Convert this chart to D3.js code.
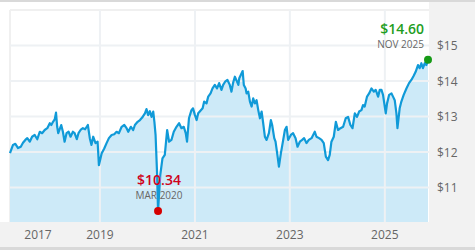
<!DOCTYPE html>
<html lang="en">
<head>
<meta charset="UTF-8">
<title>Price history</title>
<script src="https://d3js.org/d3.v7.min.js"></script>
<style>
    body { margin: 0; background: #fff; }
    svg text { font-family: "Open Sans", "DejaVu Sans", sans-serif; }
    .tick-label { font-size: 12px; fill: #666; }
</style>
</head>
<body>
<div id="chart"></div>
<script>
// dates and prices
const dates = [
    "2017-02-08","2017-03-03","2017-03-21","2017-04-11","2017-05-02","2017-05-19","2017-06-06","2017-06-21",
    "2017-07-10","2017-07-28","2017-08-17","2017-09-06","2017-09-25","2017-10-13","2017-11-02","2017-11-22",
    "2017-12-11","2017-12-23","2018-01-05","2018-01-18","2018-01-28","2018-02-06","2018-02-14","2018-03-09",
    "2018-03-22","2018-04-04","2018-04-19","2018-05-05","2018-05-20","2018-06-07","2018-06-20","2018-07-07",
    "2018-07-20","2018-08-05","2018-08-23","2018-09-09","2018-09-30","2018-10-15","2018-10-28","2018-11-10",
    "2018-11-28","2018-12-14","2018-12-24","2019-01-14","2019-02-03","2019-02-21","2019-03-11","2019-04-01",
    "2019-04-21","2019-05-09","2019-05-27","2019-06-17","2019-07-07","2019-07-25","2019-08-07","2019-08-27",
    "2019-09-14","2019-09-27","2019-10-18","2019-11-05","2019-11-22","2019-12-13","2019-12-25","2020-01-07",
    "2020-01-20","2020-02-02","2020-02-15","2020-02-24","2020-03-04","2020-03-16","2020-03-23","2020-04-09",
    "2020-04-26","2020-05-14","2020-06-01","2020-06-16","2020-07-04","2020-07-22","2020-08-12","2020-09-01",
    "2020-09-19","2020-10-07","2020-10-22","2020-11-01","2020-11-16","2020-12-05","2020-12-17","2021-01-01",
    "2021-01-14","2021-01-26","2021-02-07","2021-03-01","2021-03-13","2021-03-31","2021-04-13","2021-05-01",
    "2021-05-16","2021-06-03","2021-06-20","2021-07-06","2021-07-24","2021-08-06","2021-08-21","2021-09-08",
    "2021-09-26","2021-10-09","2021-10-21","2021-11-04","2021-11-21","2021-12-01","2021-12-08","2022-01-03",
    "2022-01-12","2022-01-26","2022-02-02","2022-02-15","2022-02-28","2022-03-13","2022-03-25","2022-04-07",
    "2022-04-20","2022-05-03","2022-05-16","2022-05-29","2022-06-10","2022-06-23","2022-07-06","2022-07-24",
    "2022-08-08","2022-08-18","2022-09-03","2022-09-13","2022-09-29","2022-10-09","2022-10-24","2022-11-11",
    "2022-11-24","2022-12-07","2022-12-19","2023-01-09","2023-01-26","2023-02-14","2023-03-01","2023-03-19",
    "2023-04-06","2023-04-21","2023-05-09","2023-05-27","2023-06-17","2023-07-12","2023-07-25","2023-08-14",
    "2023-09-02","2023-09-19","2023-10-05","2023-10-22","2023-11-04","2023-11-17","2023-12-05","2023-12-21",
    "2024-01-07","2024-01-26","2024-02-15","2024-03-06","2024-03-24","2024-04-11","2024-04-27","2024-05-15",
    "2024-06-01","2024-06-17","2024-07-05","2024-07-17","2024-07-30","2024-08-17","2024-09-02","2024-09-20",
    "2024-10-08","2024-10-23","2024-11-10","2024-11-23","2024-12-06","2024-12-18","2025-01-08","2025-01-18",
    "2025-02-03","2025-02-21","2025-03-05","2025-03-18","2025-03-31","2025-04-08","2025-04-25","2025-05-08",
    "2025-05-26","2025-06-16","2025-07-06","2025-07-24","2025-08-11","2025-08-26","2025-09-13","2025-09-26",
    "2025-10-09","2025-10-21","2025-11-04","2025-11-17","2025-11-29"
];
const prices = [
    11.97,12.20,12.23,12.11,12.15,12.26,12.34,12.39,
    12.29,12.43,12.48,12.36,12.57,12.53,12.62,12.67,
    12.81,12.76,12.85,12.92,13.11,12.71,12.53,12.76,
    12.57,12.29,12.53,12.57,12.43,12.57,12.53,12.36,
    12.53,12.62,12.67,12.64,12.76,12.39,12.20,12.43,
    12.25,12.29,11.63,11.96,12.10,12.25,12.39,12.48,
    12.50,12.57,12.53,12.71,12.76,12.67,12.57,12.71,
    12.62,12.76,12.85,12.90,12.97,13.09,13.21,13.04,
    13.15,12.99,13.14,12.85,12.48,11.35,10.34,11.35,
    11.82,11.92,12.62,12.29,12.34,12.57,12.71,12.81,
    12.67,12.71,12.53,12.29,12.95,13.18,13.23,13.04,
    12.90,13.09,13.14,13.23,13.42,13.37,13.56,13.65,
    13.79,13.89,13.79,13.94,13.75,13.89,13.98,14.03,
    13.89,13.70,13.94,14.12,13.98,13.89,14.08,14.28,
    13.89,13.79,13.65,13.70,13.42,13.28,13.51,13.37,
    13.46,13.18,12.95,13.14,12.81,12.43,12.34,12.53,
    12.90,12.76,12.39,12.29,11.87,11.59,11.96,12.34,
    12.62,12.71,12.34,12.48,12.53,12.39,12.15,12.29,
    12.34,12.39,12.25,12.34,12.39,12.57,12.43,12.39,
    12.34,12.25,11.87,11.77,11.92,12.29,12.43,12.85,
    12.62,12.67,12.71,12.95,12.99,12.76,12.67,13.09,
    12.99,13.14,13.18,13.32,13.28,13.56,13.65,13.79,
    13.70,13.75,13.56,13.75,13.75,13.61,13.09,13.37,
    13.61,13.65,13.56,13.46,13.09,12.67,13.23,13.42,
    13.61,13.79,13.94,14.03,14.15,14.26,14.45,14.36,
    14.50,14.36,14.50,14.45,14.60
];
const yTicks = [11, 12, 13, 14, 15];
const xTicks = [2017, 2019, 2021, 2023, 2025];
const lowPoint = { date: "2020-03-23", price: 10.34, label: "MAR 2020" };
const lastPoint = { date: "2025-11-29", price: 14.60, label: "NOV 2025" };

const W = 475, H = 250;
const plot = { left: 10, top: 10, right: 429, bottom: 222 };
const parse = d3.timeParse("%Y-%m-%d");
const data = dates.map((d, i) => ({ date: parse(d), price: prices[i] }));

const svg = d3.select("#chart").append("svg").attr("width", W).attr("height", H);

const x = d3.scaleTime()
    .domain(d3.extent(data, d => d.date))
    .range([plot.left, 428]);
const y = d3.scaleLinear().domain([10, 16]).range([223, plot.top]);

// background panels
svg.append("rect").attr("x", 0).attr("y", 0).attr("width", W).attr("height", 2).attr("fill", "#d9d9d9");
svg.append("rect").attr("x", plot.right).attr("y", 2).attr("width", W - plot.right).attr("height", 245).attr("fill", "#f2f2f2");
svg.append("rect").attr("x", 0).attr("y", plot.bottom).attr("width", W).attr("height", 25).attr("fill", "#f2f2f2");
svg.append("rect").attr("x", 0).attr("y", 247).attr("width", W).attr("height", 3).attr("fill", "#d9d9d9");
svg.append("line").attr("x1", plot.left).attr("x2", plot.right).attr("y1", plot.top).attr("y2", plot.top)
    .attr("stroke", "#f0f0f0").attr("stroke-width", 2);
svg.append("line").attr("x1", plot.left).attr("x2", plot.left).attr("y1", plot.top).attr("y2", plot.bottom)
    .attr("stroke", "#f0f0f0").attr("stroke-width", 2);

const g = svg.append("g");

// area under the line
g.append("path")
    .datum(data)
    .attr("fill", "#cdeaf8")
    .attr("d", d3.area().x(d => x(d.date)).y0(plot.bottom).y1(d => y(d.price)));

// gridlines
g.selectAll(".hgrid").data(yTicks).join("line")
    .attr("x1", plot.left).attr("x2", plot.right)
    .attr("y1", d => y(d)).attr("y2", d => y(d))
    .attr("stroke", "#eef1f4").attr("stroke-width", 2);

g.selectAll(".vgrid").data(xTicks.filter(t => x(new Date(t, 0, 1)) > plot.left)).join("line")
    .attr("x1", d => x(new Date(d, 0, 1))).attr("x2", d => x(new Date(d, 0, 1)))
    .attr("y1", plot.top).attr("y2", plot.bottom)
    .attr("stroke", "#eef1f4").attr("stroke-width", 2);

// price line
g.append("path")
    .datum(data)
    .attr("fill", "none")
    .attr("stroke", "#109ad8")
    .attr("stroke-width", 2.2)
    .attr("stroke-linejoin", "round")
    .attr("d", d3.line().x(d => x(d.date)).y(d => y(d.price)));

// axis labels
svg.selectAll(".ylab").data(yTicks).join("text")
    .attr("class", "tick-label")
    .attr("x", 437).attr("y", d => y(d) + 4.5)
    .text(d => "$" + d);

svg.selectAll(".xlab").data(xTicks).join("text")
    .attr("class", "tick-label")
    .attr("text-anchor", "middle")
    .attr("x", d => Math.max(x(new Date(d, 0, 1)), 38))
    .attr("y", 239)
    .text(d => d);

// low point marker
const lx = x(parse(lowPoint.date)), ly = y(lowPoint.price);
svg.append("circle").attr("cx", lx).attr("cy", ly).attr("r", 4).attr("fill", "#d50000");
svg.append("text").attr("x", lx + 1).attr("y", ly - 26).attr("text-anchor", "middle")
    .attr("font-size", 14).attr("font-weight", 600).attr("fill", "#d0021b")
    .text("$" + lowPoint.price.toFixed(2));
svg.append("text").attr("x", lx + 1).attr("y", ly - 12).attr("text-anchor", "middle")
    .attr("font-size", 10).attr("fill", "#666")
    .text(lowPoint.label);

// last point marker
const ex = x(parse(lastPoint.date)), ey = y(lastPoint.price);
svg.append("circle").attr("cx", ex).attr("cy", ey).attr("r", 4).attr("fill", "#169a16");
svg.append("text").attr("x", 424).attr("y", ey - 26).attr("text-anchor", "end")
    .attr("font-size", 14).attr("font-weight", 600).attr("fill", "#1f9e1f")
    .text("$" + lastPoint.price.toFixed(2));
svg.append("text").attr("x", 424).attr("y", ey - 12).attr("text-anchor", "end")
    .attr("font-size", 10).attr("fill", "#666")
    .text(lastPoint.label);
</script>
</body>
</html>
